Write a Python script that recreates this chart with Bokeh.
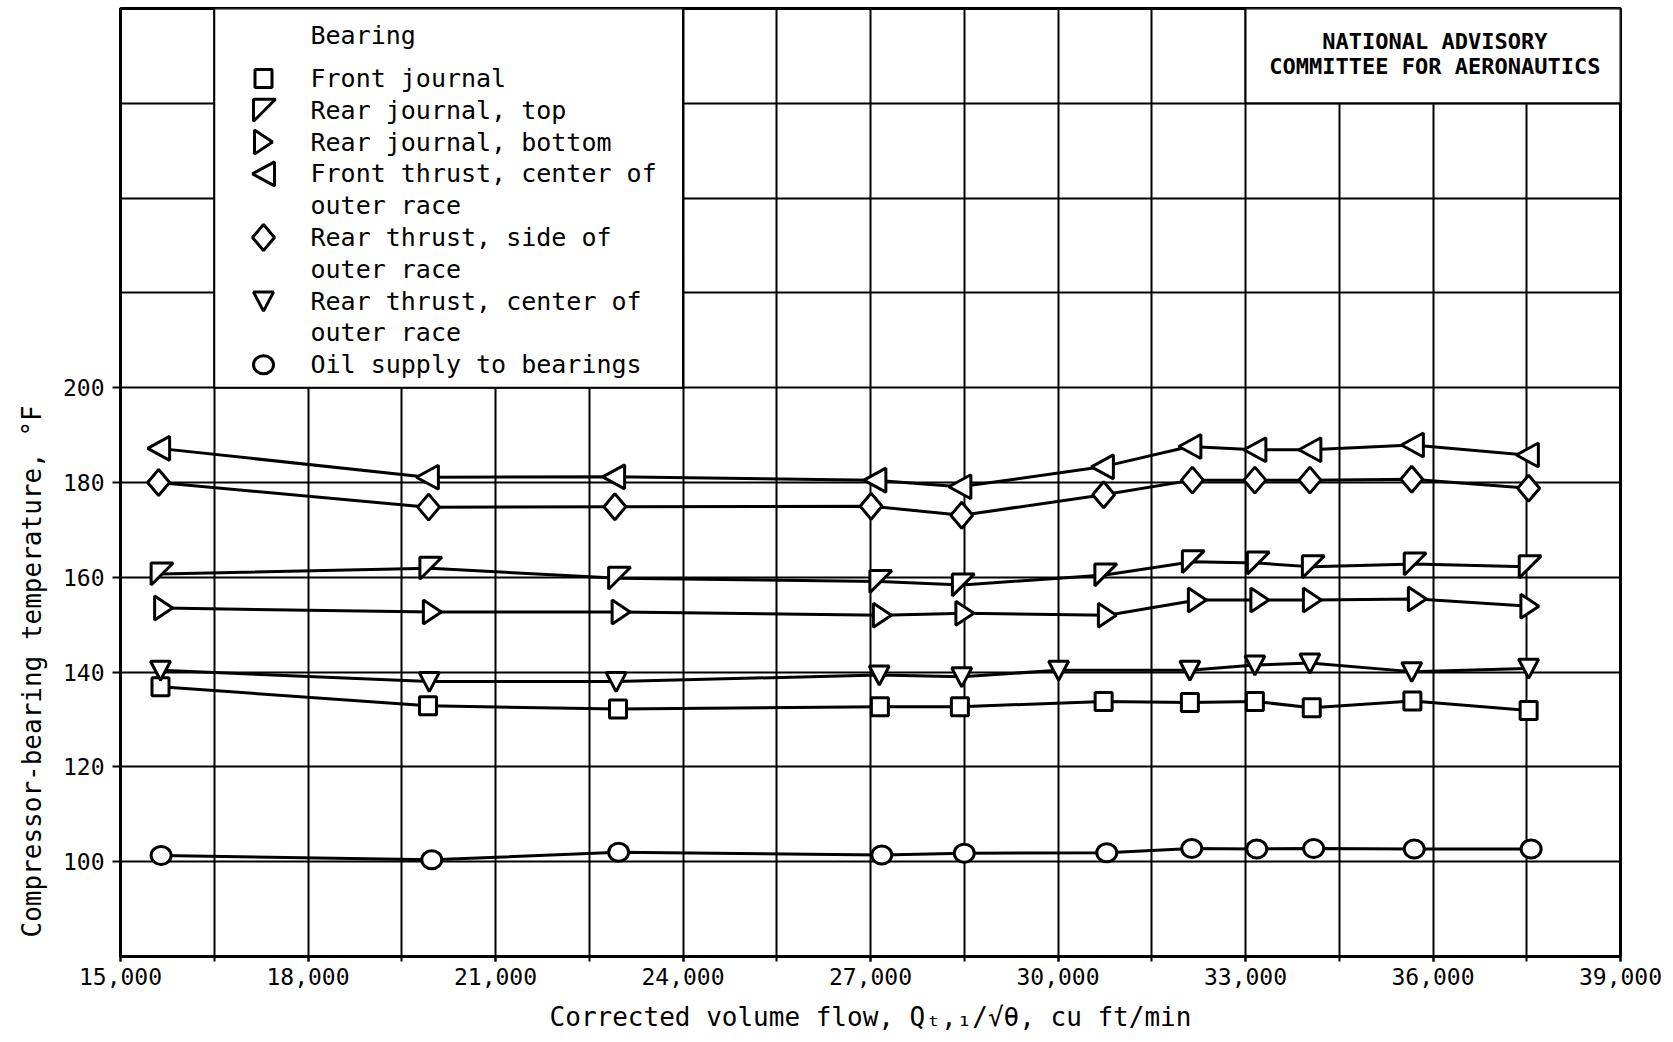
import numpy as np
from bokeh.plotting import figure
from bokeh.models import FixedTicker, NumeralTickFormatter, Title
from bokeh.core.properties import value
from bokeh.embed import file_html
from bokeh.resources import INLINE

# ---------------- data ----------------
front_journal_x = [15640, 19920, 22960, 27150, 28430, 30730, 32110, 33150, 34060, 35670, 37530]
front_journal_y = [136.9, 132.9, 132.2, 132.7, 132.7, 133.8, 133.6, 133.8, 132.5, 133.9, 131.9]

rear_journal_top_x = [15650, 19950, 22970, 27150, 28470, 30750, 32150, 33190, 34070, 35700, 37540]
rear_journal_top_y = [160.7, 161.9, 159.8, 159.1, 158.4, 160.5, 163.3, 163.0, 162.2, 162.8, 162.2]

rear_journal_bottom_x = [15690, 19990, 23010, 27190, 28510, 30790, 32230, 33230, 34070, 35750, 37550]
rear_journal_bottom_y = [153.5, 152.7, 152.7, 152.0, 152.4, 152.0, 155.2, 155.2, 155.2, 155.4, 153.9]

front_thrust_x = [15610, 19910, 22890, 27070, 28430, 30710, 32110, 33150, 34030, 35670, 37510]
front_thrust_y = [187.2, 181.1, 181.2, 180.5, 179.1, 183.3, 187.6, 186.9, 186.9, 187.9, 185.8]

rear_thrust_side_x = [15610, 19930, 22910, 27010, 28460, 30730, 32150, 33150, 34030, 35660, 37530]
rear_thrust_side_y = [180.0, 174.8, 174.9, 175.0, 173.1, 177.4, 180.5, 180.5, 180.5, 180.7, 178.8]

rear_thrust_center_x = [15640, 19940, 22930, 27140, 28460, 30010, 32110, 33150, 34030, 35660, 37530]
rear_thrust_center_y = [140.4, 138.0, 138.0, 139.4, 139.0, 140.4, 140.4, 141.5, 141.9, 140.1, 140.8]

oil_supply_x = [15650, 19980, 22970, 27180, 28500, 30780, 32140, 33180, 34090, 35700, 37570]
oil_supply_y = [101.3, 100.4, 102.0, 101.4, 101.8, 101.9, 102.8, 102.7, 102.8, 102.7, 102.7]

x_ticks = [15000, 18000, 21000, 24000, 27000, 30000, 33000, 36000, 39000]
y_ticks = [100, 120, 140, 160, 180, 200]

legend_title = "Bearing"
legend_labels = [
    ["Front journal"],
    ["Rear journal, top"],
    ["Rear journal, bottom"],
    ["Front thrust, center of", "outer race"],
    ["Rear thrust, side of", "outer race"],
    ["Rear thrust, center of", "outer race"],
    ["Oil supply to bearings"],
]
naca_lines = ["NATIONAL ADVISORY", "COMMITTEE FOR AERONAUTICS"]
x_label = "Corrected volume flow, Q\u209c,\u2081/\u221a\u03b8, cu ft/min"
y_label = "Compressor-bearing temperature, \u00b0F"

# ---------------- layout ----------------
FW, FH = 1500, 948
X0, X1, Y0, Y1 = 15000, 39000, 80, 280
DX = (X1 - X0) / FW
DY = (Y1 - Y0) / FH
FONT = "DejaVu Sans Mono"

p = figure(frame_width=FW, frame_height=FH, x_range=(X0, X1), y_range=(Y0, Y1),
           output_backend="svg", toolbar_location=None,
           min_border_left=120, min_border_right=53, min_border_top=8, min_border_bottom=86,
           background_fill_color="white", border_fill_color="white")

p.outline_line_color = "black"
p.outline_line_width = 3
p.outline_line_alpha = 1

# grids
p.xgrid.ticker = FixedTicker(ticks=list(range(15000, 39001, 1500)))
p.ygrid.ticker = FixedTicker(ticks=list(range(80, 281, 20)))
for g in (p.xgrid, p.ygrid):
    g.grid_line_color = "black"
    g.grid_line_width = 2
    g.grid_line_alpha = 1

# axes
p.xaxis.ticker = FixedTicker(ticks=x_ticks, minor_ticks=list(range(15000, 39001, 1500)))
p.xaxis.formatter = NumeralTickFormatter(format="0,0")
p.yaxis.ticker = FixedTicker(ticks=y_ticks)
for ax in (p.xaxis, p.yaxis):
    ax.axis_line_color = "black"
    ax.axis_line_width = 3
    ax.major_tick_line_color = "black"
    ax.major_tick_line_width = 2
    ax.minor_tick_line_color = "black"
    ax.minor_tick_line_width = 2
    ax.major_tick_in = 0
    ax.minor_tick_in = 0
    ax.major_label_text_font = FONT
    ax.major_label_text_font_size = "23px"
    ax.major_label_text_color = "black"
p.xaxis.major_tick_out = 5
p.xaxis.minor_tick_out = 5
p.yaxis.major_tick_out = 8
p.yaxis.minor_tick_out = 0
p.xaxis.major_label_standoff = 6
p.yaxis.major_label_standoff = 8

p.xaxis.axis_label = x_label
p.xaxis.axis_label_text_font = FONT
p.xaxis.axis_label_text_font_size = "26px"
p.xaxis.axis_label_text_font_style = "normal"
p.xaxis.axis_label_text_color = "black"
p.xaxis.axis_label_standoff = 14

# y-axis title on the left side, aligned toward the bottom of the frame
ytitle = Title(text=y_label, align="left", offset=19, standoff=25,
               text_font=FONT, text_font_size="26px", text_font_style="normal",
               text_color="black")
p.add_layout(ytitle, "left")

# white boxes for legend and NACA stamp
p.quad(left=[16500, 33000], right=[24000, 39000], bottom=[200, 260], top=[280, 280],
       fill_color="white", line_color="black", line_width=2)

# ---------------- marker shapes (pixel offsets, y up) ----------------
LEFT_TRI = [(-11, 0), (11, 12), (11, -12)]
RIGHT_TRI = [(9, 0), (-9, 12), (-9, -12)]
DOWN_TRI = [(-10, 9), (10, 9), (0, -10)]
FLAG_TRI = [(-10, 11), (12, 11), (-10, -11)]
DIAMOND = [(0, 13), (11, 0), (0, -13), (-11, 0)]


def shape(xs, ys, verts):
    px = [[x + vx * DX for vx, vy in verts] for x in xs]
    py = [[y + vy * DY for vx, vy in verts] for y in ys]
    return px, py


LW = 3
MS = dict(fill_color="white", line_color="black", line_width=LW)


def draw_marker(kind, xs, ys):
    if kind == "square":
        p.rect(xs, ys, width=17, height=18, width_units="screen", height_units="screen", **MS)
    elif kind == "circle":
        p.ellipse(xs, ys, width=20, height=18, width_units="screen", height_units="screen", **MS)
    else:
        verts = {"left": LEFT_TRI, "right": RIGHT_TRI, "down": DOWN_TRI,
                 "flag": FLAG_TRI, "diamond": DIAMOND}[kind]
        px, py = shape(xs, ys, verts)
        p.patches(px, py, **MS)


series = [
    ("square", front_journal_x, front_journal_y),
    ("flag", rear_journal_top_x, rear_journal_top_y),
    ("right", rear_journal_bottom_x, rear_journal_bottom_y),
    ("left", front_thrust_x, front_thrust_y),
    ("diamond", rear_thrust_side_x, rear_thrust_side_y),
    ("down", rear_thrust_center_x, rear_thrust_center_y),
    ("circle", oil_supply_x, oil_supply_y),
]

for kind, xs, ys in series:
    p.line(xs, ys, line_color="black", line_width=LW)
for kind, xs, ys in series:
    draw_marker(kind, xs, ys)

# ---------------- legend (inside the white box) ----------------
def row_y(px_from_top):
    return Y1 - (px_from_top - 8) * DY


def col_x(px_from_left):
    return X0 + (px_from_left - 120) * DX


text_x, text_y, text_s = [col_x(310)], [row_y(35)], [legend_title]
row = 78
ROW_STEP = 31.8
for (kind, _, _), lines in zip(series, legend_labels):
    draw_marker(kind, [col_x(263)], [row_y(row)])
    for ln in lines:
        text_x.append(col_x(310))
        text_y.append(row_y(row))
        text_s.append(ln)
        row += ROW_STEP

p.text(text_x, text_y, text=text_s, text_font=value(FONT), text_font_size="25px",
       text_align="left", text_baseline="middle", text_color="black")

p.text([36030, 36030], [row_y(41), row_y(66)], text=naca_lines, text_font=value(FONT),
       text_font_size="22px", text_font_style="bold", text_align="center",
       text_baseline="middle", text_color="black")

open("out.html", "w").write(file_html(p, INLINE))
